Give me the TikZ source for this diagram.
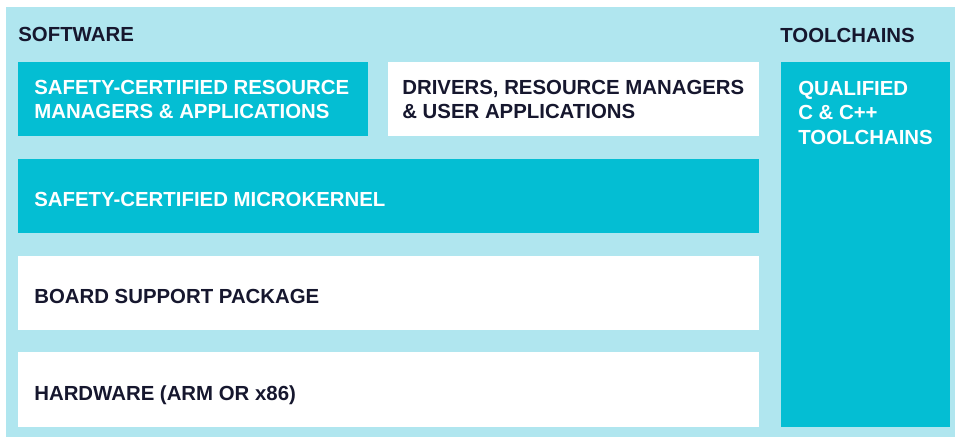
\documentclass[tikz,border=0pt]{standalone}
\usepackage{fontspec}
\setmainfont{Liberation Sans}
\usetikzlibrary{positioning}

\definecolor{panelcyan}{HTML}{B0E6EF}
\definecolor{blockcyan}{HTML}{04BED3}
\definecolor{inkblue}{HTML}{16172E}

\begin{document}
\begin{tikzpicture}[x=0.02cm,y=-0.02cm,
                    every node/.style={font=\bfseries\fontsize{11.6}{13.8}\selectfont},
                    layer/.style={rectangle,anchor=north west,inner xsep=0.32cm,inner ysep=0pt,
                                  align=flush left},
                    one line/.style={text height=0.42cm,text depth=0pt},
                    dark layer/.style={layer,fill=blockcyan,text=white},
                    light layer/.style={layer,fill=white,text=inkblue},
                    heading/.style={anchor=west,inner sep=0pt,text=inkblue}]
  \useasboundingbox (0,0) rectangle (955,437);
  \fill[panelcyan] (6,7) rectangle (955,437);

  \node[heading] (sw) at (18,34) {SOFTWARE};
  \node[heading] (tc) at (780,35) {TOOLCHAINS};

  % software stack
  \node[dark layer,minimum width=7cm,minimum height=1.48cm,text width=6.36cm] (apps) at (18,62)
    {SAFETY-CERTIFIED RESOURCE\\MANAGERS \& APPLICATIONS};
  \node[light layer,inner xsep=0.28cm,minimum width=7.42cm,minimum height=1.48cm,text width=6.86cm] (drv) at (388,62)
    {DRIVERS, RESOURCE MANAGERS\\\& USER APPLICATIONS};
  \node[dark layer,one line,minimum width=14.82cm,minimum height=1.48cm,text width=14.18cm] (kern) at (18,159)
    {SAFETY-CERTIFIED MICROKERNEL};
  \node[light layer,one line,minimum width=14.82cm,minimum height=1.48cm,text width=14.18cm] (bsp) at (18,256)
    {BOARD SUPPORT PACKAGE};
  \node[light layer,one line,minimum width=14.82cm,minimum height=1.5cm,text width=14.18cm] (hw) at (18,352)
    {HARDWARE (ARM OR x86)};

  % toolchain column
  \node[dark layer,minimum width=3.38cm,minimum height=7.3cm,text width=2.74cm] (tools) at (781,62) {};
  \node[anchor=north west,inner sep=0pt,text=white,align=flush left] (toolstxt)
    at (798,81) {QUALIFIED\\C \& C++\\TOOLCHAINS};
\end{tikzpicture}
\end{document}
